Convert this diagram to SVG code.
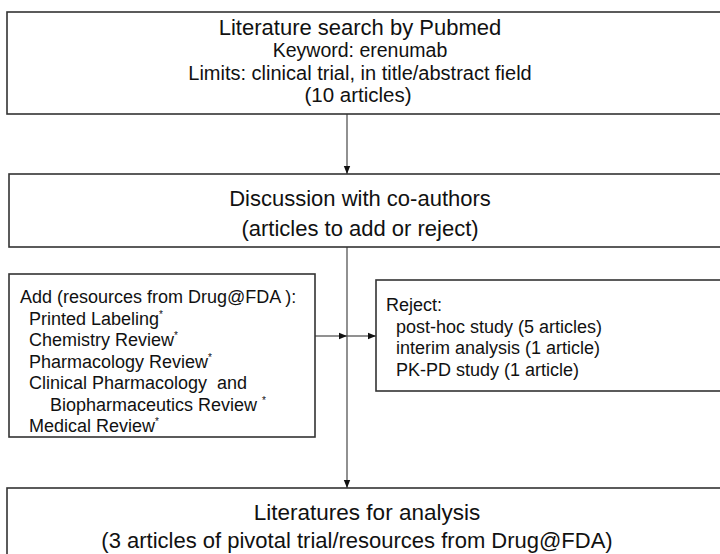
<svg xmlns="http://www.w3.org/2000/svg" width="720" height="554" viewBox="0 0 720 554">
<defs>
<style>
.box{fill:#fff;stroke:#333;stroke-width:1.6}
.t{font-family:"Liberation Sans",Arial,sans-serif;fill:#111}
.c{text-anchor:middle}
.line{stroke:#555;stroke-width:1.3;fill:none}
.sup{font-size:10px}
</style>
<marker id="ah" viewBox="0 0 10 10" refX="10" refY="5" markerWidth="8" markerHeight="8" markerUnits="userSpaceOnUse" orient="auto">
<path d="M0,1 L10,5 L0,9 Z" fill="#111"/>
</marker>
</defs>
<rect width="720" height="554" fill="#fff"/>
<g id="connectors">
<line class="line" x1="347" y1="114" x2="347" y2="174" marker-end="url(#ah)"/>
<line class="line" x1="347" y1="247" x2="347" y2="488" marker-end="url(#ah)"/>
<line class="line" x1="315" y1="336" x2="347" y2="336" marker-end="url(#ah)"/>
<line class="line" x1="347" y1="336" x2="376" y2="336" marker-end="url(#ah)"/>
</g>
<g id="search">
<rect class="box" x="7" y="12" width="730" height="102"/>
<text class="t c" x="360" y="35" font-size="22">Literature search by Pubmed</text>
<text class="t c" x="360" y="57" font-size="19.5">Keyword: erenumab</text>
<text class="t c" x="360" y="80" font-size="20">Limits: clinical trial, in title/abstract field</text>
<text class="t c" x="358" y="102" font-size="20.5">(10 articles)</text>
</g>
<g id="discussion">
<rect class="box" x="9" y="174" width="730" height="73"/>
<text class="t c" x="360" y="206" font-size="22">Discussion with co-authors</text>
<text class="t c" x="360" y="236" font-size="22">(articles to add or reject)</text>
</g>
<g id="add">
<rect class="box" x="9" y="274" width="306" height="163"/>
<text class="t" font-size="18">
<tspan x="20" y="303">Add (resources from Drug@FDA ):</tspan>
<tspan x="29" y="324.5">Printed Labeling<tspan class="sup" dy="-7">*</tspan></tspan>
<tspan x="29" y="346">Chemistry Review<tspan class="sup" dy="-7">*</tspan></tspan>
<tspan x="29" y="367.5">Pharmacology Review<tspan class="sup" dy="-7">*</tspan></tspan>
<tspan x="29" y="389" xml:space="preserve">Clinical Pharmacology  and</tspan>
<tspan x="50" y="410.5">Biopharmaceutics Review <tspan class="sup" dy="-7">*</tspan></tspan>
<tspan x="29" y="432">Medical Review<tspan class="sup" dy="-7">*</tspan></tspan>
</text>
</g>
<g id="reject">
<rect class="box" x="376" y="280" width="360" height="111"/>
<text class="t" font-size="18">
<tspan x="386" y="311">Reject:</tspan>
<tspan x="396" y="332.5">post-hoc study (5 articles)</tspan>
<tspan x="396" y="354">interim analysis (1 article)</tspan>
<tspan x="396" y="375.5">PK-PD study (1 article)</tspan>
</text>
</g>
<g id="analysis">
<rect class="box" x="7" y="488" width="730" height="80"/>
<text class="t c" x="367" y="520" font-size="22.5">Literatures for analysis</text>
<text class="t c" x="357" y="548" font-size="22">(3 articles of pivotal trial/resources from Drug@FDA)</text>
</g>
</svg>
